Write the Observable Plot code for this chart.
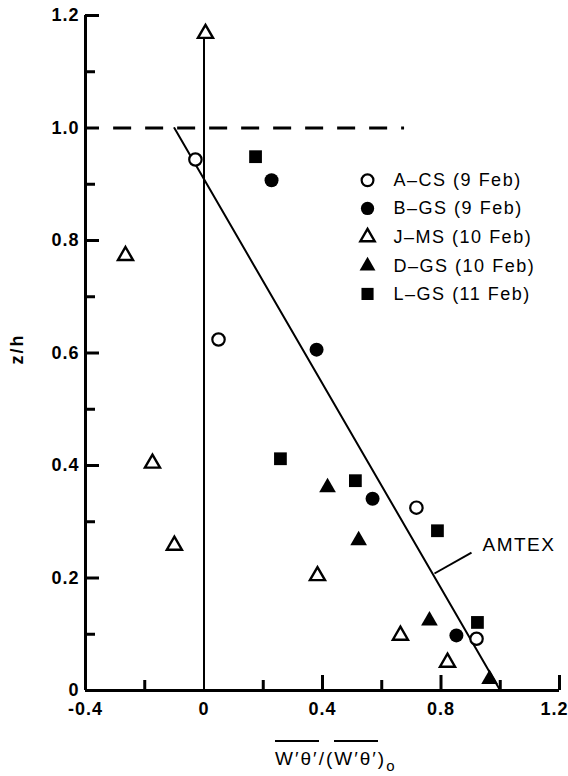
<!DOCTYPE html>
<html>
<head>
<meta charset="utf-8">
<script src="https://cdn.jsdelivr.net/npm/d3@7"></script>
<script src="https://cdn.jsdelivr.net/npm/@observablehq/plot@0.6"></script>
<style>
  body { margin: 0; background: #fff; }
  #chart { position: relative; width: 568px; height: 776px; font-family: "Liberation Sans", Arial, sans-serif; color: #000; }
  #chart svg text { letter-spacing: 1.5px; }
  #chart svg g[aria-label="x-axis tick label"] text,
  #chart svg g[aria-label="y-axis tick label"] text { letter-spacing: 1px; }
  .xtitle { position: absolute; left: 275px; top: 749px; font-size: 19px; line-height: 19px; letter-spacing: 2px; white-space: nowrap; }
  .xtitle .ov { border-top: 2px solid #000; padding-top: 6px; }
  .xtitle sub { font-size: 15px; vertical-align: -6px; }
  .ytitle { position: absolute; left: 17px; top: 349px; transform: translate(-50%, -50%) rotate(-90deg); font-size: 18px; font-weight: bold; letter-spacing: 2px; white-space: nowrap; }
</style>
</head>
<body>
<div id="chart"></div>
<script>
// Normalised heat-flux profiles, w'θ'/(w'θ')0 against z/h
const seriesNames = ["A–CS (9 Feb)", "B–GS (9 Feb)", "J–MS (10 Feb)", "D–GS (10 Feb)", "L–GS (11 Feb)"];

const acsX = [-0.029, 0.049, 0.717, 0.920];
const acsY = [0.944, 0.624, 0.325, 0.092];

const bgsX = [0.228, 0.380, 0.569, 0.852];
const bgsY = [0.907, 0.606, 0.341, 0.098];

const jmsX = [0.005, -0.265, -0.174, -0.100, 0.383, 0.663, 0.822];
const jmsY = [1.168, 0.773, 0.404, 0.258, 0.204, 0.098, 0.050];

const dgsX = [0.417, 0.522, 0.761, 0.964];
const dgsY = [0.361, 0.267, 0.124, 0.020];

const lgsX = [0.174, 0.258, 0.511, 0.788, 0.923];
const lgsY = [0.949, 0.412, 0.373, 0.284, 0.121];

// AMTEX reference profile
const amtexX = [-0.1, 1.0];
const amtexY = [1.0, 0.0];

// inversion height z/h = 1 (dashed)
const inversionY = 1.0;
const inversionX = [-0.305, 0.677];

// axes
const xDomain = [-0.4, 1.2];
const yDomain = [0, 1.2];
const xTickLabels = [-0.4, 0, 0.4, 0.8];
const xEndLabel = [1.2];
const xMajorTicks = [0.4, 0.8, 1.2];
const xMinorTicks = [-0.2, 0.2, 0.6, 1.0];
const yTickLabels = [0, 0.2, 0.4, 0.6, 0.8, 1.0, 1.2];
const yMajorTicks = [0.2, 0.4, 0.6, 0.8, 1.0, 1.2];
const yMinorTicks = [0.1, 0.3, 0.5, 0.7, 0.9, 1.1];

// legend layout (data units)
const legendSymbolX = 0.552;
const legendTextX = 0.640;
const legendRowsY = [0.907, 0.857, 0.806, 0.755, 0.705];

// AMTEX annotation
const amtexLabel = "AMTEX";
const amtexLabelAt = [0.940, 0.258];
const amtexLeader = [[0.778, 0.208], [0.903, 0.245]];

const seriesX = [acsX, bgsX, jmsX, dgsX, lgsX];
const seriesY = [acsY, bgsY, jmsY, dgsY, lgsY];

const seriesStyle = [
  {symbol: "circle", r: 6.2, fill: "white", stroke: "black", strokeWidth: 2.2},
  {symbol: "circle", r: 7, fill: "black"},
  {symbol: "triangle", r: 5.6, fill: "white", stroke: "black", strokeWidth: 2.4},
  {symbol: "triangle", r: 6.2, fill: "black"},
  {symbol: "square", r: 7.2, fill: "black"}
];

const fmt = d => d === 0 ? "0" : (d < 0 ? "-" : "") + Math.abs(d).toFixed(1);
const labelStyle = {tickSize: 0, tickFormat: fmt, fontSize: 18, fontWeight: "bold", label: null};

const points = seriesX.map((xs, i) => xs.map((x, j) => ({x, y: seriesY[i][j]})));
const legendRows = seriesNames.map((name, i) => ({name, x: legendSymbolX, tx: legendTextX, y: legendRowsY[i]}));

const marks = [
  // frame: left and bottom axis lines
  Plot.ruleX([xDomain[0]], {y1: yDomain[0], y2: yDomain[1], strokeWidth: 3}),
  Plot.ruleY([yDomain[0]], {x1: xDomain[0], x2: xDomain[1], strokeWidth: 3}),
  // inward ticks
  Plot.axisY(yMajorTicks, {tickSize: 14, dx: 14, tickFormat: () => "", strokeWidth: 3, label: null}),
  Plot.axisY(yMinorTicks, {tickSize: 10, dx: 10, tickFormat: () => "", strokeWidth: 3, label: null}),
  Plot.axisX(xMajorTicks, {tickSize: 15, dy: -15, tickFormat: () => "", strokeWidth: 3, label: null}),
  Plot.axisX(xMinorTicks, {tickSize: 10, dy: -10, tickFormat: () => "", strokeWidth: 3, label: null}),
  // tick labels
  Plot.axisY(yTickLabels, {...labelStyle, tickPadding: 6}),
  Plot.axisX(xTickLabels, {...labelStyle, tickPadding: 12}),
  Plot.axisX(xEndLabel, {...labelStyle, tickPadding: 12, dx: -5}),
  // zero line up to the highest J–MS point
  Plot.ruleX([0], {y1: 0, y2: jmsY[0], strokeWidth: 2}),
  // inversion
  Plot.ruleY([inversionY], {x1: inversionX[0], x2: inversionX[1], strokeWidth: 3, strokeDasharray: "18,14"}),
  // AMTEX line
  Plot.line(amtexX.map((x, i) => ({x, y: amtexY[i]})), {x: "x", y: "y", strokeWidth: 2}),
  Plot.link([amtexLeader], {x1: d => d[0][0], y1: d => d[0][1], x2: d => d[1][0], y2: d => d[1][1], strokeWidth: 2}),
  Plot.text([amtexLabel], {x: amtexLabelAt[0], y: amtexLabelAt[1], text: d => d, textAnchor: "start", fontSize: 19})
];

// data points and legend entries for each series
points.forEach((pts, i) => {
  marks.push(Plot.dot(pts, {x: "x", y: "y", ...seriesStyle[i]}));
  marks.push(Plot.dot([legendRows[i]], {x: "x", y: "y", ...seriesStyle[i], r: seriesStyle[i].r * 0.95}));
  marks.push(Plot.text([legendRows[i]], {x: "tx", y: "y", text: "name", textAnchor: "start", fontSize: 18}));
});

const chart = Plot.plot({
  width: 568,
  height: 776,
  marginLeft: 85,
  marginRight: 9,
  marginTop: 15,
  marginBottom: 86,
  x: {domain: xDomain},
  y: {domain: yDomain},
  style: {fontFamily: "'Liberation Sans', Arial, sans-serif", color: "#000", background: "#fff"},
  marks
});

const root = document.getElementById("chart");
root.appendChild(chart);

const xt = document.createElement("div");
xt.className = "xtitle";
xt.innerHTML = '<span class="ov">W′θ′</span>/(<span class="ov">W′θ′</span>)<sub>o</sub>';
root.appendChild(xt);

const yt = document.createElement("div");
yt.className = "ytitle";
yt.textContent = "z/h";
root.appendChild(yt);
</script>
</body>
</html>
